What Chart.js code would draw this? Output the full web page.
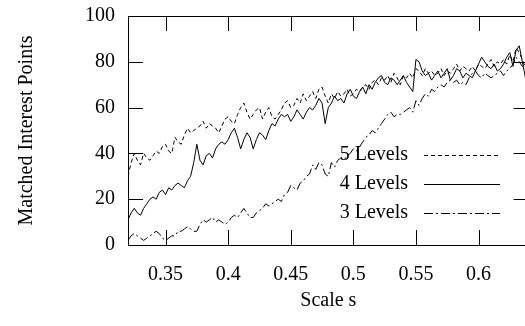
<!DOCTYPE html>
<html>
<head>
<meta charset="utf-8">
<script src="https://cdn.jsdelivr.net/npm/chart.js@4"></script>
<style>
  html, body { margin: 0; padding: 0; overflow: hidden; background: #fff; }
  #wrap { width: 540px; height: 326px; }
</style>
</head>
<body>
<div id="wrap"><canvas id="chart" width="540" height="326"></canvas></div>
<script>
// Trục x: scale s, lấy mẫu đều từ 0.32, bước 0.0025
const scaleStart = 0.32;
const scaleStep = 0.0025;

const xTicks = [0.35, 0.4, 0.45, 0.5, 0.55, 0.6];
const yTicks = [0, 20, 40, 60, 80, 100];

const levels5 = [
  30, 36, 40, 37, 35, 40, 38, 37, 39, 41,
  40, 43, 44, 41, 40, 47, 45, 44, 48, 51,
  49, 50, 51, 52, 54, 51, 53, 52, 51, 49,
  52, 55, 56, 54, 53, 57, 60, 62, 58, 55,
  57, 59, 60, 55, 58, 60, 56, 55, 57, 59,
  62, 63, 60, 61, 64, 62, 66, 63, 65, 67,
  64, 68, 69, 65, 62, 66, 64, 67, 65, 66,
  68, 65, 66, 68, 67, 69, 70, 68, 71, 72,
  70, 73, 72, 74, 71, 75, 73, 70, 74, 73,
  75, 73, 77, 76, 74, 77, 75, 76, 74, 75,
  77, 74, 76, 75, 77, 79, 76, 78, 77, 76,
  78, 76, 79, 78, 77, 79, 81, 78, 80, 79,
  81, 79, 83, 80, 86, 84, 81, 77, 76
];

const levels4 = [
  11, 14, 16, 14, 13, 16, 18, 20, 21, 20,
  23, 24, 22, 25, 24, 26, 27, 26, 25, 28,
  30, 36, 44, 37, 35, 39, 40, 38, 42, 44,
  45, 44, 46, 49, 51, 47, 42, 46, 49, 47,
  42, 46, 49, 48, 46, 50, 53, 52, 55, 57,
  56, 57, 54, 56, 59, 57, 55, 58, 60, 59,
  61, 64, 62, 53, 60, 62, 65, 63, 64, 62,
  66, 68, 65, 64, 67, 69, 66, 70, 68, 71,
  73, 74, 71, 70, 73, 72, 70, 72, 74, 71,
  69, 67, 81, 80, 76, 74, 75, 72, 74, 76,
  73, 75, 77, 72, 74, 77, 76, 73, 75, 74,
  73, 76, 79, 82, 80, 78, 77, 79, 76, 77,
  79, 82, 84, 78, 85, 87, 80, 73, 75
];

const levels3 = [
  2, 4, 5, 4, 3, 2, 3, 4, 5, 6,
  5, 3, 2, 3, 4, 4, 6, 6, 7, 8,
  7, 6, 6, 9, 11, 10, 11, 12, 10, 11,
  10, 9, 10, 12, 13, 12, 14, 16, 14, 12,
  12, 14, 15, 16, 18, 17, 18, 19, 20, 19,
  22, 23, 26, 25, 24, 27, 28, 30, 31, 35,
  33, 36, 35, 31, 30, 36, 34, 37, 38, 37,
  39, 40, 42, 41, 43, 45, 47, 48, 50, 49,
  51, 53, 55, 57, 58, 56, 57, 57, 58, 59,
  60, 58, 63, 61, 64, 66, 65, 68, 67, 69,
  70, 69, 71, 72, 71, 72, 70, 71, 70, 73,
  75, 76, 74, 73, 75, 74, 73, 74, 75, 76,
  74, 76, 77, 79, 82, 80, 78, 79, 80
];

const seriesNames = ['5 Levels', '4 Levels', '3 Levels'];
const dashes = [[4, 3], [], [9, 3, 2, 3]];

const FONT = 'Liberation Serif, Times New Roman, serif';

function toPoints(values) {
  return values.map((v, i) => ({ x: +(scaleStart + i * scaleStep).toFixed(4), y: v }));
}

// Vẽ khung, vạch chia hướng vào trong và chú thích bên trong vùng vẽ
const framePlugin = {
  id: 'frame',
  afterDraw(chart) {
    const { ctx, chartArea: a, scales } = chart;
    const len = 15;
    ctx.save();
    ctx.strokeStyle = '#000';
    ctx.lineWidth = 1;
    ctx.beginPath();
    ctx.rect(a.left + 0.5, a.top + 0.5, a.right - a.left, a.bottom - a.top);
    xTicks.forEach(t => {
      const x = Math.round(scales.x.getPixelForValue(t)) + 0.5;
      ctx.moveTo(x, a.bottom); ctx.lineTo(x, a.bottom - len);
      ctx.moveTo(x, a.top); ctx.lineTo(x, a.top + len);
    });
    yTicks.forEach(t => {
      const y = Math.round(scales.y.getPixelForValue(t)) + 0.5;
      ctx.moveTo(a.left, y); ctx.lineTo(a.left + len, y);
      ctx.moveTo(a.right, y); ctx.lineTo(a.right - len, y);
    });
    ctx.stroke();

    // chú thích
    ctx.font = '20px ' + FONT;
    ctx.fillStyle = '#000';
    ctx.textAlign = 'right';
    ctx.textBaseline = 'middle';
    const textRight = 408, lineX0 = 424, lineX1 = 500;
    seriesNames.forEach((name, i) => {
      const y = 155 + i * 29;
      ctx.fillText(name, textRight, y);
      ctx.setLineDash(dashes[i]);
      ctx.beginPath();
      ctx.moveTo(lineX0, y + 0.5);
      ctx.lineTo(lineX1, y + 0.5);
      ctx.stroke();
    });
    ctx.restore();
  }
};

new Chart(document.getElementById('chart'), {
  type: 'line',
  data: {
    datasets: [
      { label: seriesNames[0], data: toPoints(levels5), borderDash: dashes[0] },
      { label: seriesNames[1], data: toPoints(levels4), borderDash: dashes[1] },
      { label: seriesNames[2], data: toPoints(levels3), borderDash: dashes[2] }
    ].map(ds => Object.assign(ds, {
      borderColor: '#000', borderWidth: 1, pointRadius: 0, tension: 0, fill: false
    }))
  },
  options: {
    responsive: false,
    animation: false,
    layout: { padding: { left: 0, right: 11.4, top: 16, bottom: 0 } },
    plugins: { legend: { display: false }, tooltip: { enabled: false } },
    scales: {
      x: {
        type: 'linear',
        min: 0.32,
        max: 0.64,
        afterBuildTicks: s => { s.ticks = xTicks.map(v => ({ value: v })); },
        afterFit: s => { s.height = 81; s.paddingLeft = 0; s.paddingRight = 0; },
        grid: { display: false, drawTicks: false },
        border: { display: false },
        ticks: {
          color: '#000', font: { family: FONT, size: 20 }, padding: 18,
          maxRotation: 0, callback: v => String(v)
        },
        title: {
          display: true, text: 'Scale s', color: '#000',
          font: { family: FONT, size: 20 }, padding: { top: 13, bottom: 13 }
        }
      },
      y: {
        min: 0,
        max: 100,
        afterBuildTicks: s => { s.ticks = yTicks.map(v => ({ value: v })); },
        afterFit: s => { s.width = 128; s.paddingTop = 0; s.paddingBottom = 0; },
        grid: { display: false, drawTicks: false },
        border: { display: false },
        ticks: { color: '#000', font: { family: FONT, size: 20 }, padding: 13 },
        title: {
          display: true, text: 'Matched Interest Points', color: '#000',
          font: { family: FONT, size: 20 }, padding: { top: 15, bottom: 15 }
        }
      }
    }
  },
  plugins: [framePlugin]
});
</script>
</body>
</html>
